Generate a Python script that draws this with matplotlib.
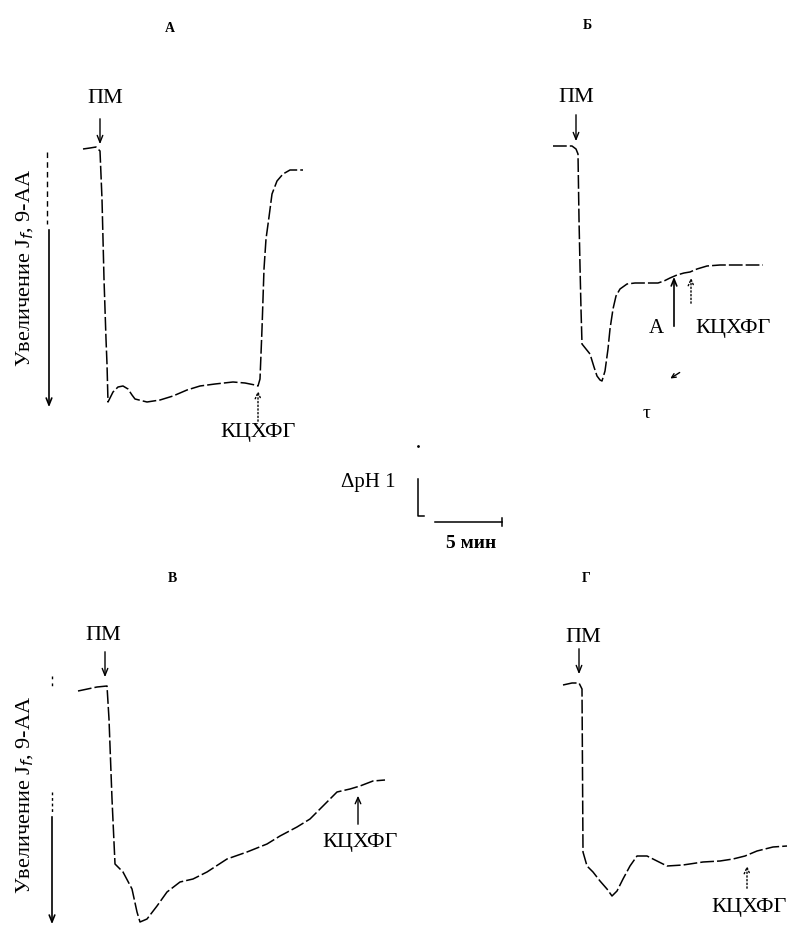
import matplotlib.pyplot as plt

plt.rcParams["font.family"] = ["Liberation Serif", "DejaVu Serif"]

# Fluorescence traces of 9-AA, drawn on the page grid (x right, y down)
trace_a_x = [83, 90, 96, 100, 102, 104, 106, 107, 108, 113, 118, 123, 128, 132, 135,
             147, 160, 173, 187, 200, 215, 233, 245, 255, 258, 260, 262, 264, 266,
             269, 272, 277, 283, 290, 303]
trace_a_y = [150, 149, 148, 152, 200, 280, 340, 365, 403, 393, 388, 387, 390, 396, 400,
             403, 401, 397, 391, 387, 385, 383, 384, 386, 387, 380, 330, 270, 240,
             218, 195, 182, 175, 171, 171]

trace_b_x = [553, 565, 572, 576, 578, 579, 580, 581, 582, 586, 590, 594, 597, 600, 602,
             605, 608, 610, 613, 616, 620, 627, 635, 648, 658, 664, 670, 677, 684, 690,
             697, 707, 720, 733, 750, 763]
trace_b_y = [147, 147, 147, 150, 155, 220, 267, 310, 345, 350, 355, 368, 377, 381, 382,
             372, 350, 330, 310, 297, 290, 285, 284, 284, 284, 282, 279, 276, 274, 273,
             270, 267, 266, 266, 266, 266]

trace_v_x = [78, 97, 107, 109, 112, 115, 123, 132, 137, 140, 147, 157, 167, 180, 193,
             207, 227, 247, 267, 280, 297, 310, 323, 337, 350, 360, 373, 385]
trace_v_y = [692, 688, 687, 720, 800, 865, 873, 890, 913, 923, 920, 907, 893, 883, 880,
             873, 860, 853, 845, 837, 828, 820, 807, 793, 790, 787, 782, 781]

trace_g_x = [563, 572, 579, 582, 583, 587, 593, 600, 607, 612, 617, 623, 630, 637, 647,
             657, 667, 683, 703, 720, 733, 745, 757, 773, 787]
trace_g_y = [686, 684, 684, 690, 853, 867, 873, 882, 890, 897, 892, 880, 867, 857, 857,
             862, 867, 866, 863, 862, 860, 857, 852, 848, 847]

panel_titles = ["А", "Б", "В", "Г"]
title_pos = [(170, 28), (587, 25), (172, 578), (586, 579)]

pm_pos = [(105, 98), (576, 97), (103, 635), (583, 637)]
pm_arrows = [((100, 117), (100, 148)), ((576, 113), (576, 145)),
             ((105, 650), (105, 681)), ((579, 647), (579, 678))]

kf_pos = [(258, 433), (733, 328), (360, 843), (749, 908)]
kf_arrows = [((258, 425), (258, 389)), ((691, 307), (691, 276)),
             ((358, 828), (358, 794)), ((747, 892), (747, 864))]
kf_styles = ["dotted", "dotted", "solid", "dotted"]

ylabel = "Увеличение J$_f$, 9-АА"

fig = plt.figure(figsize=(7.92, 9.29), dpi=100)
ax = fig.add_axes([0, 0, 1, 1])
ax.set_xlim(0, 792)
ax.set_ylim(929, 0)
ax.axis("off")

trace_style = dict(color="black", lw=1.1, linestyle=(0, (9, 2)))
for xs, ys in [(trace_a_x, trace_a_y), (trace_b_x, trace_b_y),
               (trace_v_x, trace_v_y), (trace_g_x, trace_g_y)]:
    ax.plot(xs, ys, **trace_style)

for t, (x, y) in zip(panel_titles, title_pos):
    ax.text(x, y, t, fontsize=10, fontweight="bold", ha="center", va="center")

for (x, y) in pm_pos:
    ax.text(x, y, "ПМ", fontsize=16, ha="center", va="center")
for tail, tip in pm_arrows:
    ax.annotate("", xy=tip, xytext=tail,
                arrowprops=dict(arrowstyle="->,head_length=0.5,head_width=0.2",
                                color="black", lw=1))

for (x, y) in kf_pos:
    ax.text(x, y, "КЦХФГ", fontsize=16, ha="center", va="center")
for (tail, tip), ls in zip(kf_arrows, kf_styles):
    ax.annotate("", xy=tip, xytext=tail,
                arrowprops=dict(arrowstyle="->,head_length=0.45,head_width=0.2",
                                color="black", lw=1, linestyle=ls))

# amplitude A and half-time tau on panel Б
ax.annotate("", xy=(674, 275), xytext=(674, 330),
            arrowprops=dict(arrowstyle="->,head_length=0.5,head_width=0.2",
                            color="black", lw=1.2))
ax.text(656, 328, "А", fontsize=15, ha="center", va="center")
ax.annotate("", xy=(668, 381), xytext=(682, 372),
            arrowprops=dict(arrowstyle="->,head_length=0.3,head_width=0.15",
                            color="black", lw=1))
ax.text(647, 413, "τ", fontsize=14, ha="center", va="center")

# vertical axes with the fluorescence increase arrow
ax.plot([47, 47], [153, 225], color="black", lw=1, linestyle=(0, (4, 3)))
ax.annotate("", xy=(49, 411), xytext=(49, 228),
            arrowprops=dict(arrowstyle="->,head_length=0.5,head_width=0.2",
                            color="black", lw=1.2))
ax.text(25, 268, ylabel, fontsize=16, rotation=90, ha="center", va="center")

ax.plot([52, 52], [677, 690], color="black", lw=1, linestyle=(0, (2, 3)))
ax.plot([52, 52], [793, 815], color="black", lw=1, linestyle=(0, (2, 2)))
ax.annotate("", xy=(52, 928), xytext=(52, 815),
            arrowprops=dict(arrowstyle="->,head_length=0.5,head_width=0.2",
                            color="black", lw=1.2))
ax.text(25, 795, ylabel, fontsize=16, rotation=90, ha="center", va="center")

# scale bars
ax.plot([418, 418, 424], [480, 517, 517], color="black", lw=1.1)
ax.plot([418], [447], marker=".", color="black", ms=2)
ax.plot([435, 502], [523, 523], color="black", lw=1.1)
ax.plot([502, 502], [519, 527], color="black", lw=1.1)
ax.text(368, 483, "ΔpH 1", fontsize=15, ha="center", va="center")
ax.text(471, 543, "5 мин", fontsize=14, fontweight="bold", ha="center", va="center")

fig.savefig("out.png", dpi=100)
